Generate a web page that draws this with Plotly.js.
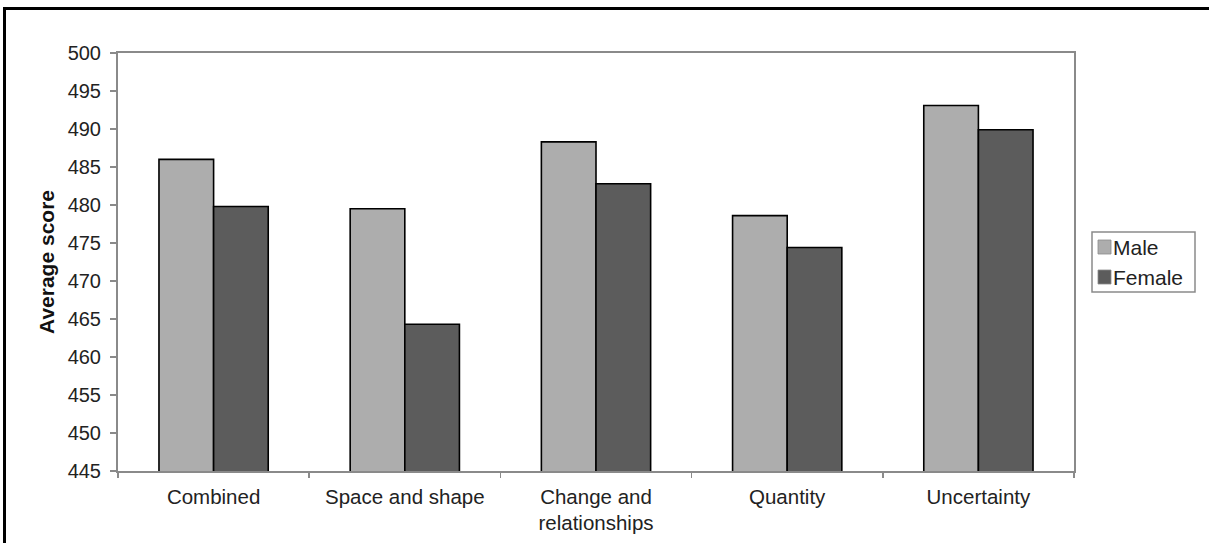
<!DOCTYPE html>
<html>
<head>
<meta charset="utf-8">
<script src="https://cdn.plot.ly/plotly-3.0.1.min.js"></script>
<style>
  html, body { margin: 0; padding: 0; background: #ffffff; }
  #wrap { position: relative; width: 1209px; height: 543px; overflow: hidden; }
  #chart { position: absolute; left: 0; top: 0; width: 1209px; height: 543px; }
  #frame {
    position: absolute; left: 3px; top: 7px; right: -10px; bottom: -10px;
    border-left: 3px solid #000; border-top: 3px solid #000;
    pointer-events: none;
  }
</style>
</head>
<body>
<div id="wrap">
  <div id="chart"></div>
  <div id="frame"></div>
</div>
<script>
// Mathematics subscale scores by gender
const categories = ["Combined", "Space and shape", "Change and<br>relationships", "Quantity", "Uncertainty"];
const seriesNames = ["Male", "Female"];
const maleScores = [486.0, 479.5, 488.3, 478.6, 493.1];
const femaleScores = [479.8, 464.3, 482.8, 474.4, 489.9];
const seriesColors = ["#adadad", "#5c5c5c"];
const yTicks = [445, 450, 455, 460, 465, 470, 475, 480, 485, 490, 495, 500];

const W = 1209, H = 543;
const M = { l: 118, r: 135, t: 53, b: 72 };
const plotW = W - M.l - M.r, plotH = H - M.t - M.b;
const px2x = px => (px - M.l) / plotW;
const px2y = py => (H - M.b - py) / plotH;

const font = "Arial, 'Liberation Sans', sans-serif";

const traces = [maleScores, femaleScores].map((vals, i) => ({
  type: "bar",
  name: seriesNames[i],
  x: categories,
  y: vals,
  marker: { color: seriesColors[i], line: { color: "#000000", width: 1.6 } },
  hoverinfo: "x+y+name"
}));

// Legend box with swatches drawn beside the plot area
const legendBox = { x0: 1092, x1: 1195, y0: 232, y1: 292 };
const rowCenters = [247, 277];
const shapes = [{
  type: "rect", xref: "paper", yref: "paper",
  x0: px2x(legendBox.x0), x1: px2x(legendBox.x1),
  y0: px2y(legendBox.y1), y1: px2y(legendBox.y0),
  line: { color: "#8a8a8a", width: 1.5 }, fillcolor: "rgba(0,0,0,0)"
}];
const annotations = [];
seriesNames.forEach((name, i) => {
  const cy = rowCenters[i];
  shapes.push({
    type: "rect", xref: "paper", yref: "paper",
    x0: px2x(1098), x1: px2x(1111), y0: px2y(cy + 7), y1: px2y(cy - 7),
    line: { color: "#8a8a8a", width: 0.8 }, fillcolor: seriesColors[i]
  });
  annotations.push({
    xref: "paper", yref: "paper", x: px2x(1111), y: px2y(cy),
    xanchor: "left", yanchor: "middle", showarrow: false,
    text: name, font: { family: font, size: 21, color: "#222222" }
  });
});

const layout = {
  width: W, height: H,
  margin: M,
  paper_bgcolor: "#ffffff",
  plot_bgcolor: "#ffffff",
  showlegend: false,
  barmode: "group",
  bargap: 0.4286,
  bargroupgap: 0,
  font: { family: font, size: 20, color: "#222222" },
  xaxis: {
    type: "category",
    showline: true, linecolor: "#8a8a8a", linewidth: 2, mirror: true,
    showgrid: false,
    ticks: "outside", tickson: "boundaries", ticklen: 5, tickwidth: 1.5, tickcolor: "#8a8a8a",
    ticklabelstandoff: 6,
    tickfont: { family: font, size: 20.5, color: "#222222" },
    fixedrange: true
  },
  yaxis: {
    range: [445, 500],
    tickvals: yTicks,
    ticktext: yTicks.map(String),
    showline: true, linecolor: "#8a8a8a", linewidth: 2, mirror: true,
    showgrid: false, zeroline: false,
    ticks: "outside", ticklen: 6, tickwidth: 1.5, tickcolor: "#8a8a8a",
    ticklabelstandoff: 5,
    tickfont: { family: font, size: 20, color: "#222222" },
    title: { text: "<b>Average score</b>", font: { family: font, size: 21, color: "#111111" }, standoff: 7 },
    fixedrange: true
  },
  shapes: shapes,
  annotations: annotations
};

Plotly.newPlot("chart", traces, layout, { displayModeBar: false, staticPlot: true });
</script>
</body>
</html>
